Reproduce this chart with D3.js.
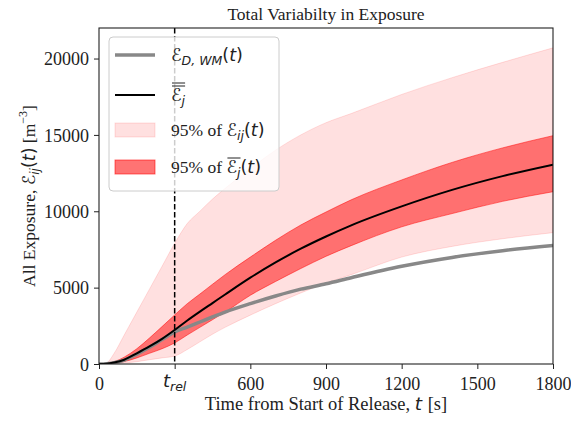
<!DOCTYPE html>
<html>
<head>
<meta charset="utf-8">
<script src="https://cdn.jsdelivr.net/npm/d3@7"></script>
<style>
  body { margin: 0; background: #fff; }
  text { white-space: pre; }
</style>
</head>
<body>
<script>
// time grid (s)
const times = [0, 30, 60, 100, 150, 200, 250, 300, 350, 400, 450, 500, 600, 700, 800, 900, 1000, 1200, 1400, 1600, 1800];
// E_D,WM(t)
const wellMixed = [0, 15, 90, 260, 650, 1100, 1600, 2100, 2420, 2750, 3080, 3400, 3950, 4450, 4900, 5250, 5650, 6400, 6980, 7420, 7760];
// mean of E_j
const meanExp = [0, 20, 100, 280, 700, 1150, 1650, 2230, 2850, 3430, 3990, 4550, 5650, 6650, 7550, 8350, 9080, 10320, 11400, 12300, 13050];
// 95% band of E_ij(t)
const allLow = [0, 0, 20, 60, 150, 280, 400, 520, 950, 1450, 1950, 2400, 3200, 3950, 4650, 5300, 5850, 7000, 7700, 8200, 8600];
const allHigh = [0, 80, 700, 1900, 3400, 4900, 6400, 7900, 9200, 10000, 10800, 11500, 12800, 14000, 15000, 15800, 16400, 17650, 18750, 19750, 20700];
// 95% band of mean E_j(t)
const meanLow = [0, 10, 60, 160, 400, 700, 1000, 1380, 1900, 2400, 2900, 3400, 4500, 5400, 6250, 7050, 7750, 8980, 9850, 10650, 11280];
const meanHigh = [0, 30, 150, 450, 1000, 1700, 2450, 3210, 3950, 4580, 5220, 5850, 7000, 8100, 9100, 9950, 10750, 12050, 13200, 14150, 14950];

const tRel = 300;
const xTicks = [0, 300, 600, 900, 1200, 1500, 1800];
const yTicks = [0, 5000, 10000, 15000, 20000];

const width = 571, height = 421;
const margin = {top: 28, right: 18, bottom: 57, left: 99};

const serif = "Liberation Serif";
const mathFont = "DejaVu Sans";

const svg = d3.select("body").append("svg")
    .attr("width", width)
    .attr("height", height);

const x = d3.scaleLinear().domain([0, 1800]).range([margin.left, width - margin.right]);
const y = d3.scaleLinear().domain([0, 22000]).range([height - margin.bottom, margin.top]);

// build rows
const rows = times.map((t, i) => ({
    t: t, wm: wellMixed[i], mean: meanExp[i],
    aLo: allLow[i], aHi: allHigh[i], mLo: meanLow[i], mHi: meanHigh[i]
}));

// clip to plot area
svg.append("clipPath").attr("id", "plotclip")
  .append("rect")
    .attr("x", margin.left).attr("y", margin.top)
    .attr("width", width - margin.left - margin.right)
    .attr("height", height - margin.top - margin.bottom);

const plot = svg.append("g").attr("clip-path", "url(#plotclip)");

const curve = d3.curveMonotoneX;

const allArea = d3.area().curve(curve)
    .x(d => x(d.t)).y0(d => y(d.aLo)).y1(d => y(d.aHi));
const meanArea = d3.area().curve(curve)
    .x(d => x(d.t)).y0(d => y(d.mLo)).y1(d => y(d.mHi));

plot.append("path")
    .attr("d", allArea(rows))
    .attr("fill", "#ff0000").attr("fill-opacity", 0.12)
    .attr("stroke", "#ff0000").attr("stroke-opacity", 0.12).attr("stroke-width", 1);

plot.append("path")
    .attr("d", meanArea(rows))
    .attr("fill", "#ff0000").attr("fill-opacity", 0.5)
    .attr("stroke", "#ff0000").attr("stroke-opacity", 0.5).attr("stroke-width", 1);

const line = key => d3.line().curve(curve).x(d => x(d.t)).y(d => y(d[key]));

plot.append("path")
    .attr("d", line("wm")(rows))
    .attr("fill", "none").attr("stroke", "#888").attr("stroke-width", 3.5);

plot.append("path")
    .attr("d", line("mean")(rows))
    .attr("fill", "none").attr("stroke", "#000").attr("stroke-width", 2);

// release time marker
svg.append("line")
    .attr("x1", x(tRel)).attr("x2", x(tRel))
    .attr("y1", margin.top).attr("y2", height - margin.bottom)
    .attr("stroke", "#000").attr("stroke-width", 1.5)
    .attr("stroke-dasharray", "5.5,2.5");

// frame
svg.append("rect")
    .attr("x", margin.left).attr("y", margin.top)
    .attr("width", width - margin.left - margin.right)
    .attr("height", height - margin.top - margin.bottom)
    .attr("fill", "none").attr("stroke", "#222").attr("stroke-width", 1.1);

// axes
const xAxis = svg.append("g")
    .attr("transform", `translate(0,${height - margin.bottom})`)
    .call(d3.axisBottom(x).tickValues(xTicks).tickSize(5).tickPadding(4)
        .tickFormat(d => d === tRel ? "" : d));
const yAxis = svg.append("g")
    .attr("transform", `translate(${margin.left},0)`)
    .call(d3.axisLeft(y).tickValues(yTicks).tickSize(5).tickPadding(5)
        .tickFormat(d3.format("d")));

[xAxis, yAxis].forEach(a => {
    a.attr("font-family", serif);
    a.select(".domain").remove();
    a.selectAll(".tick line").attr("stroke", "#222").attr("stroke-width", 1);
    a.selectAll(".tick text")
        .attr("font-family", serif).attr("font-size", 18).attr("fill", "#222");
});
xAxis.selectAll(".tick text").attr("dy", "0.95em");
yAxis.selectAll(".tick text").attr("dy", "0.34em");

// draws a run of text pieces (serif or math) side by side
function mathLine(parent, parts) {
    const g = parent.append("g");
    let cx = 0;
    const bars = {};
    parts.forEach(p => {
        const t = g.append("text")
            .attr("x", cx).attr("y", p.dy || 0)
            .attr("font-family", p.math ? mathFont : serif)
            .attr("font-style", p.italic ? "italic" : "normal")
            .attr("font-size", p.size)
            .attr("fill", "#222")
            .text(p.s);
        const w = t.node().getComputedTextLength();
        if (p.bar) {
            const b = bars[p.bar.id] || (bars[p.bar.id] = {x0: cx, x1: cx, n: p.bar.n, top: p.bar.top});
            b.x1 = cx + w;
        }
        cx += w + (p.gap || 0);
    });
    Object.values(bars).forEach(b => {
        for (let k = 0; k < b.n; k++) {
            g.append("line")
                .attr("x1", b.x0 + 1).attr("x2", b.x1)
                .attr("y1", b.top - k * 3).attr("y2", b.top - k * 3)
                .attr("stroke", "#222").attr("stroke-width", 1);
        }
    });
    return {g: g, width: cx};
}

// t_rel tick label
const trel = mathLine(svg, [
    {s: "t", math: true, italic: true, size: 18},
    {s: "rel", math: true, italic: true, size: 12.5, dy: 4}
]);
trel.g.attr("transform", `translate(${x(tRel) - trel.width / 2},387)`);

// title
svg.append("text")
    .attr("x", (margin.left + width - margin.right) / 2).attr("y", 20)
    .attr("text-anchor", "middle")
    .attr("font-family", serif).attr("font-size", 17.5).attr("fill", "#222")
    .text("Total Variabilty in Exposure");

// x label
const xl = mathLine(svg, [
    {s: "Time from Start of Release, ", size: 18.5},
    {s: "t", math: true, italic: true, size: 18.5, gap: 1},
    {s: " [s]", size: 18.5}
]);
xl.g.attr("transform", `translate(${(margin.left + width - margin.right) / 2 - xl.width / 2},410)`);

// y label
const yl = mathLine(svg, [
    {s: "All Exposure, ", size: 17.5},
    {s: "\u2130", math: true, italic: true, size: 17.5},
    {s: "ij", math: true, italic: true, size: 12, dy: 4},
    {s: "(", math: true, size: 17.5},
    {s: "t", math: true, italic: true, size: 17.5},
    {s: ")", math: true, size: 17.5},
    {s: " [m", size: 17.5},
    {s: "\u22123", size: 12, dy: -8},
    {s: "]", size: 17.5}
]);
yl.g.attr("transform", `translate(35,${(margin.top + height - margin.bottom) / 2 + yl.width / 2}) rotate(-90)`);

// legend
const legend = svg.append("g");
legend.append("rect")
    .attr("x", 109).attr("y", 37).attr("width", 170).attr("height", 154)
    .attr("rx", 4)
    .attr("fill", "#fff").attr("fill-opacity", 0.8)
    .attr("stroke", "#ccc").attr("stroke-width", 1);

const hx0 = 115, hx1 = 155, tx = 171;
const entryY = [55, 95, 130, 167];

legend.append("line")
    .attr("x1", hx0).attr("x2", hx1).attr("y1", entryY[0]).attr("y2", entryY[0])
    .attr("stroke", "#888").attr("stroke-width", 3.5);
legend.append("line")
    .attr("x1", hx0).attr("x2", hx1).attr("y1", entryY[1]).attr("y2", entryY[1])
    .attr("stroke", "#000").attr("stroke-width", 2);
legend.append("rect")
    .attr("x", hx0).attr("y", entryY[2] - 7).attr("width", hx1 - hx0).attr("height", 14)
    .attr("fill", "#ff0000").attr("fill-opacity", 0.12)
    .attr("stroke", "#ff0000").attr("stroke-opacity", 0.12);
legend.append("rect")
    .attr("x", hx0).attr("y", entryY[3] - 7).attr("width", hx1 - hx0).attr("height", 14)
    .attr("fill", "#ff0000").attr("fill-opacity", 0.55)
    .attr("stroke", "#ff0000").attr("stroke-opacity", 0.55);

const fs = 17.5;
const labels = [
    [
        {s: "\u2130", math: true, italic: true, size: fs},
        {s: "D, WM", math: true, italic: true, size: 12.5, dy: 4},
        {s: "(", math: true, size: fs},
        {s: "t", math: true, italic: true, size: fs},
        {s: ")", math: true, size: fs}
    ],
    [
        {s: "\u2130", math: true, italic: true, size: fs, bar: {id: "a", n: 2, top: -15}},
        {s: "j", math: true, italic: true, size: 12.5, dy: 4, bar: {id: "a", n: 2, top: -15}}
    ],
    [
        {s: "95% of ", size: fs},
        {s: "\u2130", math: true, italic: true, size: fs},
        {s: "ij", math: true, italic: true, size: 12.5, dy: 4},
        {s: "(", math: true, size: fs},
        {s: "t", math: true, italic: true, size: fs},
        {s: ")", math: true, size: fs}
    ],
    [
        {s: "95% of ", size: fs},
        {s: "\u2130", math: true, italic: true, size: fs, bar: {id: "b", n: 1, top: -15}},
        {s: "j", math: true, italic: true, size: 12.5, dy: 4, bar: {id: "b", n: 1, top: -15}},
        {s: "(", math: true, size: fs},
        {s: "t", math: true, italic: true, size: fs},
        {s: ")", math: true, size: fs}
    ]
];
labels.forEach((parts, i) => {
    const m = mathLine(legend, parts);
    m.g.attr("transform", `translate(${tx},${entryY[i] + 6})`);
});
</script>
</body>
</html>
